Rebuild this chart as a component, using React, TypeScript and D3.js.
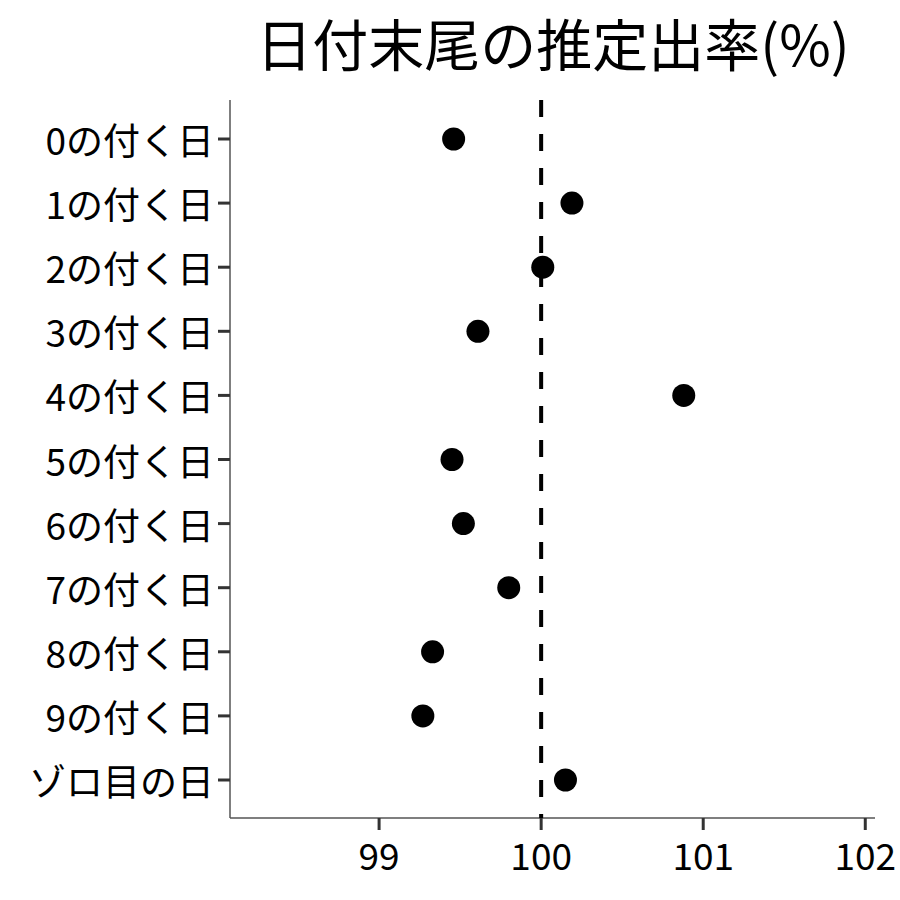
import React from "react";
import * as d3 from "d3";

const categories = ["0の付く日","1の付く日","2の付く日","3の付く日","4の付く日","5の付く日","6の付く日","7の付く日","8の付く日","9の付く日","ゾロ目の日"];
const values = [99.46, 100.19, 100.01, 99.61, 100.88, 99.45, 99.52, 99.80, 99.33, 99.27, 100.15];
const xTicks = [99, 100, 101, 102];
const refValue = 100;
const title = "日付末尾の推定出率(%)";

export default function App() {
  const W = 900, H = 900;
  const left = 230, right = 875, top = 100, bottom = 818;
  const x = d3.scaleLinear().domain([98.08, 102.06]).range([left, right]);
  const y = d3.scalePoint<string>().domain(categories).range([139, 780]);
  const font = "'Noto Sans CJK JP', 'Noto Sans', sans-serif";
  return (
    <svg width={W} height={H} style={{ position: "absolute", left: 0, top: 0, background: "#fff" }}>
      <text x={553} y={41} textAnchor="middle" dominantBaseline="central" fontFamily={font} fontSize={56} fill="#000">{title}</text>
      <line x1={left} x2={left} y1={top} y2={bottom} stroke="#555" strokeWidth={1.5} />
      <line x1={left} x2={right} y1={bottom} y2={bottom} stroke="#555" strokeWidth={1.5} />
      {categories.map((c) => (
        <g key={c}>
          <line x1={left - 12} x2={left} y1={y(c)} y2={y(c)} stroke="#333" strokeWidth={3} />
          <text x={left - 16} y={y(c)} textAnchor="end" dominantBaseline="central" fontFamily={font} fontSize={37} fill="#000">{c}</text>
        </g>
      ))}
      {xTicks.map((t) => (
        <g key={t}>
          <line x1={x(t)} x2={x(t)} y1={bottom} y2={bottom + 12} stroke="#333" strokeWidth={3} />
          <text x={x(t)} y={bottom + 36} textAnchor="middle" dominantBaseline="central" fontFamily={font} fontSize={37} fill="#000">{t}</text>
        </g>
      ))}
      <line x1={x(refValue)} x2={x(refValue)} y1={top} y2={bottom} stroke="#000" strokeWidth={4} strokeDasharray="17,17" />
      {values.map((v, i) => (
        <circle key={i} cx={x(v)} cy={y(categories[i])} r={11.5} fill="#000" />
      ))}
    </svg>
  );
}
